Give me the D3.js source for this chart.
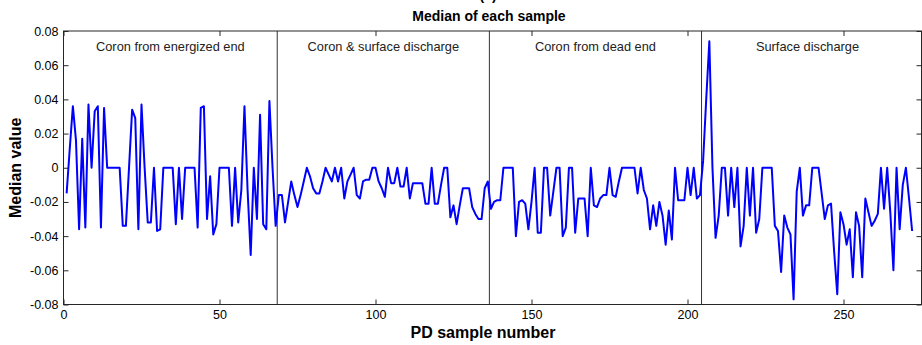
<!DOCTYPE html>
<html>
<head>
<meta charset="utf-8">
<script src="https://cdn.jsdelivr.net/npm/d3@7/dist/d3.min.js"></script>
<style>
  html, body { margin: 0; padding: 0; background: #fff; }
  svg { display: block; font-family: "Liberation Sans", Arial, sans-serif; }
</style>
</head>
<body>
<svg id="chart" width="922" height="345"></svg>
<script>
// ---- data ----
const groupNames = ["Coron from energized end", "Coron & surface discharge", "Coron from dead end", "Surface discharge"];
const groupBoundaries = [68.5, 136.5, 204.5];

const group1 = [-0.015, 0.011, 0.036, 0.016, -0.036, 0.017, -0.035, 0.037, 0, 0.033,
  0.036, -0.035, 0.035, 0, 0, 0, 0, 0, -0.034, -0.034,
  0, 0.034, 0.029, -0.036, 0.037, 0, -0.032, -0.032, 0, -0.037,
  -0.036, 0, 0, 0, 0, -0.033, 0, -0.03, 0, 0,
  0, 0, -0.035, 0.035, 0.036, -0.03, -0.005, -0.039, -0.033, 0,
  0, 0, 0, -0.034, 0, -0.032, -0.013, 0.036, -0.013, -0.051,
  0, -0.03, 0.031, -0.033, -0.036, 0.039, 0, -0.034];

const group2 = [-0.016, -0.016, -0.032, -0.02, -0.008, -0.016, -0.023, -0.016, -0.008, 0,
  -0.005, -0.012, -0.015, -0.015, -0.008, 0, -0.004, -0.008, 0, -0.008,
  0, -0.018, -0.008, -0.004, 0, -0.016, -0.018, -0.008, -0.007, -0.007,
  0, 0, -0.008, -0.012, -0.017, 0, -0.009, -0.009, 0, -0.011,
  -0.011, 0, -0.018, -0.009, -0.009, -0.009, -0.009, -0.021, -0.021, 0,
  -0.021, -0.021, -0.01, 0, 0, -0.029, -0.022, -0.033, -0.022, -0.012,
  -0.012, -0.012, -0.023, -0.027, -0.03, -0.03, -0.012, -0.008];

const group3 = [-0.024, -0.02, -0.019, -0.019, 0, 0, 0, 0, -0.04, -0.02,
  -0.019, -0.021, -0.036, -0.02, 0, -0.038, -0.038, 0, 0, -0.028,
  -0.014, 0, 0, -0.04, -0.035, 0, 0, -0.038, -0.018, -0.018,
  -0.018, -0.04, 0, -0.022, -0.023, -0.018, -0.016, -0.016, 0, -0.016,
  -0.017, -0.008, 0, 0, 0, 0, 0, -0.015, 0, -0.013,
  -0.018, -0.036, -0.022, -0.034, -0.02, -0.028, -0.045, -0.025, -0.042, 0,
  -0.019, -0.019, -0.019, 0, -0.016, 0, -0.018, -0.016];

const group4 = [0.004, 0.04, 0.074, 0, -0.041, -0.028, 0, 0, -0.028, 0,
  -0.023, 0, -0.046, -0.034, 0, -0.028, 0, -0.038, -0.03, 0,
  0, 0, 0, -0.034, -0.037, -0.061, -0.028, -0.035, -0.039, -0.077,
  -0.014, 0, -0.028, -0.022, -0.022, 0, 0, 0, -0.015, -0.03,
  -0.022, -0.021, -0.049, -0.074, -0.026, -0.033, -0.045, -0.036, -0.064, -0.026,
  -0.034, -0.064, -0.018, -0.026, -0.034, -0.031, -0.027, 0, -0.024, 0,
  -0.026, -0.06, 0, -0.036, -0.01, 0, -0.018, -0.037];

const medians = [].concat(group1, group2, group3, group4);
const xTicks = [0, 50, 100, 150, 200, 250];
const yTicks = [-0.08, -0.06, -0.04, -0.02, 0, 0.02, 0.04, 0.06, 0.08];
const yTickLabels = ["-0.08", "-0.06", "-0.04", "-0.02", "0", "0.02", "0.04", "0.06", "0.08"];
const titleText = "Median of each sample";
const xLabel = "PD sample number";
const yLabel = "Median value";

// ---- layout ----
const svg = d3.select("#chart");
const L = 63.5, R = 921.5, T = 31, B = 304.5;
const x = d3.scaleLinear().domain([0, 275]).range([L, R]);
const y = d3.scaleLinear().domain([-0.08, 0.08]).range([B, T]);

// partially visible panel letter at the very top
svg.append("text").attr("x", 488).attr("y", -0.5).attr("text-anchor", "middle")
  .attr("font-size", 14).attr("font-weight", "bold").text("(c)");

// title
svg.append("text").attr("x", 489).attr("y", 21).attr("text-anchor", "middle")
  .attr("font-size", 14).attr("font-weight", "bold").attr("fill", "#000").text(titleText);

// axes with inward ticks
const tickLen = 5;
const axB = d3.axisBottom(x).tickValues(xTicks).tickSizeInner(-tickLen).tickSizeOuter(0).tickPadding(6);
const axT = d3.axisTop(x).tickValues(xTicks).tickSizeInner(-tickLen).tickSizeOuter(0).tickFormat("");
const axL = d3.axisLeft(y).tickValues(yTicks).tickSizeInner(-tickLen).tickSizeOuter(0).tickPadding(5)
  .tickFormat((d, i) => yTickLabels[i]);
const axR = d3.axisRight(y).tickValues(yTicks).tickSizeInner(-tickLen).tickSizeOuter(0).tickFormat("");

function styleAxis(g) {
  g.select(".domain").remove();
  g.selectAll(".tick line").attr("stroke", "#262626").attr("stroke-width", 1);
  g.selectAll(".tick text").attr("font-size", 12.5).attr("fill", "#000")
    .attr("font-family", "'Liberation Sans', Arial, sans-serif");
}
svg.append("g").attr("transform", `translate(0,${B})`).call(axB).call(styleAxis);
svg.append("g").attr("transform", `translate(0,${T})`).call(axT).call(styleAxis);
svg.append("g").attr("transform", `translate(${L},0)`).call(axL).call(styleAxis);
svg.append("g").attr("transform", `translate(${R},0)`).call(axR).call(styleAxis);

// group separators
svg.append("g").selectAll("line").data(groupBoundaries).join("line")
  .attr("x1", d => x(d)).attr("x2", d => x(d)).attr("y1", T).attr("y2", B)
  .attr("stroke", "#333").attr("stroke-width", 1);

// group labels
const groupCenters = [0, 1, 2, 3].map(i => {
  const a = i === 0 ? 0 : groupBoundaries[i - 1];
  const b = i === 3 ? 275 : groupBoundaries[i];
  return (a + b) / 2;
});
svg.append("g").selectAll("text").data(groupNames).join("text")
  .attr("x", (d, i) => x(groupCenters[i]) + (i === 3 ? -4 : 0))
  .attr("y", 51).attr("text-anchor", "middle").attr("font-size", 12.8).attr("fill", "#222")
  .text(d => d);

// line
const line = d3.line().x((d, i) => x(i + 1)).y(d => y(d));
svg.append("path").datum(medians).attr("d", line).attr("fill", "none")
  .attr("stroke", "#0000ff").attr("stroke-width", 2).attr("stroke-linejoin", "round");

// frame
svg.append("rect").attr("x", L).attr("y", T).attr("width", R - L).attr("height", B - T)
  .attr("fill", "none").attr("stroke", "#262626").attr("stroke-width", 1);

// axis labels
svg.append("text").attr("x", 483).attr("y", 338).attr("text-anchor", "middle")
  .attr("font-size", 16).attr("font-weight", "bold").text(xLabel);
svg.append("text").attr("transform", `translate(21,${(T + B) / 2}) rotate(-90)`)
  .attr("text-anchor", "middle").attr("font-size", 16).attr("font-weight", "bold").text(yLabel);
</script>
</body>
</html>
